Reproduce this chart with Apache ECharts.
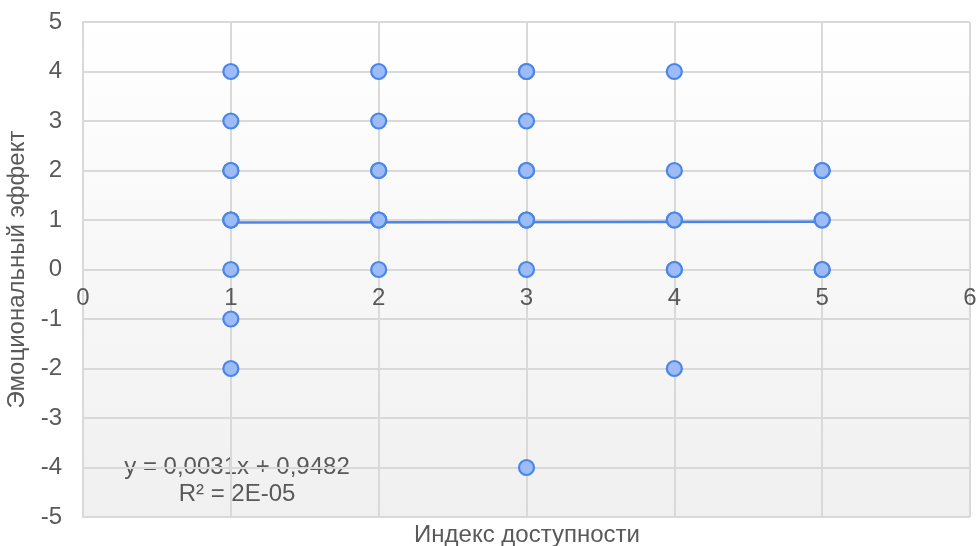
<!DOCTYPE html>
<html>
<head>
<meta charset="utf-8">
<script src="https://cdn.jsdelivr.net/npm/echarts@6/dist/echarts.min.js"></script>
<style>html,body{margin:0;padding:0;background:#fff}#c{width:976px;height:546px}</style>
</head>
<body>
<div id="c"></div>
<script>
// Data
const xValues = [1,1,1,1,1,1,1,1,1,1, 2,2,2,2,2,2,2,2, 3,3,3,3,3,3,3,3,3,3, 4,4,4,4,4,4,4, 5,5,5,5,5,5];
const yValues = [4,3,2,2,1,1,1,0,-1,-2, 4,3,2,2,1,1,1,0, 4,4,3,2,2,1,1,1,0,-4, 4,2,1,1,0,0,-2, 2,2,1,1,0,0];
const trendSlope = 0.0031;
const trendIntercept = 0.9482;
const trendXRange = [1, 5];
const equationText = 'y = 0,0031x + 0,9482';
const r2Text = 'R² = 2E-05';
const xTitle = 'Индекс доступности';
const yTitle = 'Эмоциональный эффект';

const points = xValues.map((x, i) => [x, yValues[i]]);
const trend = trendXRange.map(x => [x, trendSlope * x + trendIntercept]);

const chart = echarts.init(document.getElementById('c'));
const font = 'Liberation Sans, Arial, sans-serif';
const fs = 24;
const gridTop = 22, gridBottom = 29, H = 546;
const plotH = H - gridTop - gridBottom;
chart.setOption({
  animation: false,
  textStyle: { fontFamily: font },
  grid: {
    left: 83, right: 6, top: gridTop, bottom: gridBottom,
    outerBoundsMode: 'none',
    containLabel: false,
    show: true,
    borderWidth: 0,
    backgroundColor: new echarts.graphic.LinearGradient(0, 0, 0, 1, [
      { offset: 0, color: '#ffffff' },
      { offset: 1, color: '#f0f0f0' }
    ])
  },
  xAxis: {
    type: 'value', min: 0, max: 6, interval: 1,
    position: 'bottom',
    offset: -plotH / 2,
    axisLine: { show: true, onZero: false, lineStyle: { color: '#d9d9d9', width: 2 } },
    axisTick: { show: false },
    axisLabel: { color: '#595959', fontSize: fs, margin: 17, fontFamily: font },
    splitLine: { show: true, lineStyle: { color: '#d9d9d9', width: 2 } }
  },
  yAxis: {
    type: 'value', min: -5, max: 5, interval: 1,
    name: yTitle, nameLocation: 'middle', nameGap: 49, nameRotate: 90,
    nameTextStyle: { color: '#595959', fontSize: fs, fontFamily: font },
    axisLine: { show: true, lineStyle: { color: '#d9d9d9', width: 2 } },
    axisTick: { show: false },
    axisLabel: { color: '#595959', fontSize: fs, margin: 21, fontFamily: font },
    splitLine: { show: true, lineStyle: { color: '#d9d9d9', width: 2 } }
  },
  series: [
    {
      type: 'line', data: trend, symbol: 'none', z: 3,
      lineStyle: { color: '#4a86e8', width: 2.5 }
    },
    {
      type: 'scatter', data: points, symbolSize: 15, z: 4,
      itemStyle: { color: '#9dbbf7', borderColor: '#4a86e8', borderWidth: 2.2, opacity: 1 }
    }
  ],
  graphic: [
    { type: 'text', x: 527, y: 535, style: { text: xTitle, font: fs + 'px ' + font, fill: '#595959', align: 'center', verticalAlign: 'middle' } },
    { type: 'text', x: 237, y: 467, style: { text: equationText, font: fs + 'px ' + font, fill: '#595959', align: 'center', verticalAlign: 'middle' } },
    { type: 'text', x: 237, y: 494, style: { text: r2Text, font: fs + 'px ' + font, fill: '#595959', align: 'center', verticalAlign: 'middle' } }
  ]
});
</script>
</body>
</html>
